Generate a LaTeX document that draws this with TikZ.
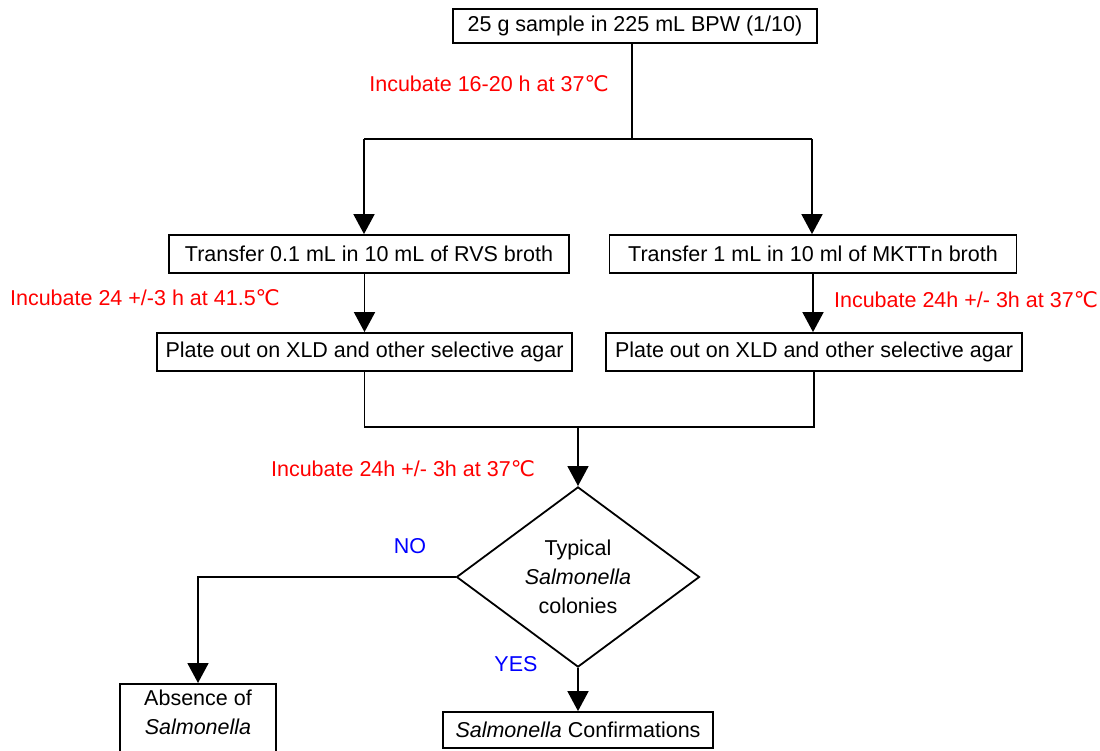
\documentclass[tikz,border=0pt]{standalone}
\usepackage{fontspec}
\setmainfont{Liberation Sans}
\newfontfamily\degfont{DejaVu Sans}
\usepackage{xcolor}
\usetikzlibrary{arrows.meta,shapes.geometric}
\tikzset{>={Triangle[length=20pt,width=21pt]}}
\tikzset{stepbox/.style={draw,rectangle,line width=1.8pt,minimum height=38pt,inner sep=0pt},
	incub/.style={text=red},
	answer/.style={text=blue}}
\newcommand{\degc}{{\degfont ℃}}

\begin{document}
\begin{tikzpicture}[x=1pt,y=-1pt,line width=1.8pt, every node/.style={font=\fontsize{21.5}{29}\selectfont}]
		\useasboundingbox (0,0) rectangle (1100,751);
		\clip (0,0) rectangle (1100,751);
		% Sample
		\node[stepbox,minimum width=364pt,minimum height=34pt] (sample) at (635,26) {25 g sample in 225 mL BPW (1/10)};
		\node[incub] (inc1) at (489,84) {Incubate 16-20 h at 37\degc};
		% Enrichment
		\node[stepbox,minimum width=400pt] (rvs) at (369,254) {Transfer 0.1 mL in 10 mL of RVS broth};
		\node[stepbox,minimum width=407pt] (mkttn) at (813,254) {Transfer 1 mL in 10 ml of MKTTn broth};
		\node[incub] (inc2) at (145,298) {Incubate 24 +/-3 h at 41.5\degc};
		\node[incub] (inc3) at (966,300) {Incubate 24h +/- 3h at 37\degc};
		% Plating
		\node[stepbox,minimum width=415pt] (plate1) at (364.5,352) {Plate out on XLD and other selective agar};
		\node[stepbox,minimum width=416pt] (plate2) at (814,352) {Plate out on XLD and other selective agar};
		\node[incub] (inc4) at (403,469) {Incubate 24h +/- 3h at 37\degc};
		% Decision
		\node[draw,diamond,minimum width=243pt,minimum height=180pt,inner sep=0pt,align=center] (typical) at (578,577) {Typical\\\textit{Salmonella}\\colonies};
		\node[answer] (no) at (410,546) {NO};
		\node[answer] (yes) at (516,664) {YES};
		\node[stepbox,anchor=north,minimum width=156pt,minimum height=0pt,inner ysep=6pt,align=center,text depth=60pt] (absence) at (198,683) {Absence of\\\textit{Salmonella}};
		\node[stepbox,minimum width=270pt,minimum height=36pt] (confirm) at (578,730) {\textit{Salmonella} Confirmations};
		% Connectors
		\coordinate (split) at (632,139);
		\coordinate (lb) at (364,139);
		\coordinate (rb) at (812,139);
		\coordinate (merge) at (578,427);
		\draw (sample.south -| split) -- (split);
		\draw (lb) -- (rb);
		\draw[->] (lb) -- (lb |- rvs.north);
		\draw[->] (rb) -- (rb |- mkttn.north);
		\draw[->] (rvs.south -| plate1.north) -- (plate1.north);
		\draw[->] (mkttn.south) -- (mkttn.south |- plate2.north);
		\draw (plate1.south) |- (merge) -| (plate2.south);
		\draw[->] (merge) -- (typical.north);
		\draw[->] (typical.west) -| (absence.north);
		\draw[->] (typical.south) -- (confirm.north);
\end{tikzpicture}
\end{document}
